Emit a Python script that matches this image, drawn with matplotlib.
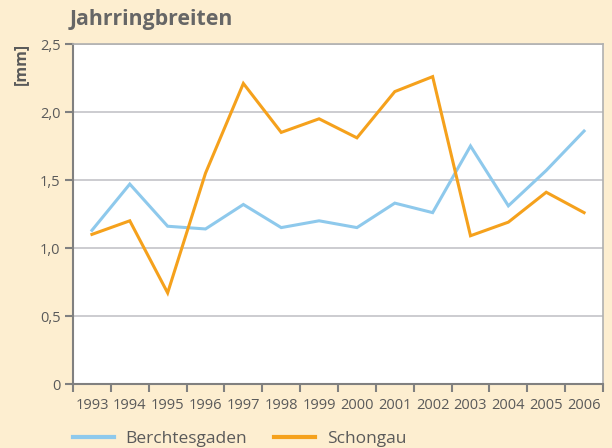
import numpy as np
import matplotlib.pyplot as plt
from matplotlib.lines import Line2D

plt.rcParams['font.family'] = ['Open Sans', 'DejaVu Sans']

years = ['1993', '1994', '1995', '1996', '1997', '1998', '1999',
         '2000', '2001', '2002', '2003', '2004', '2005', '2006']
berchtesgaden = [1.13, 1.47, 1.16, 1.14, 1.32, 1.15, 1.20,
                 1.15, 1.33, 1.26, 1.75, 1.31, 1.57, 1.86]
schongau = [1.10, 1.20, 0.67, 1.55, 2.21, 1.85, 1.95,
            1.81, 2.15, 2.26, 1.09, 1.19, 1.41, 1.26]
yticks = [0, 0.5, 1.0, 1.5, 2.0, 2.5]
ytick_labels = ['0', '0,5', '1,0', '1,5', '2,0', '2,5']

bg = '#fdeed0'
text_col = '#5a5a5a'
axis_col = '#808080'
blue = '#8ec9ec'
orange = '#f5a11c'

fig = plt.figure(figsize=(6.12, 4.48), dpi=100, facecolor=bg)
ax = fig.add_axes([73 / 612, 64 / 448, 530 / 612, 340 / 448])
ax.set_facecolor('white')

x = np.arange(len(years))
ax.plot(x, berchtesgaden, color=blue, lw=2.2, solid_joinstyle='miter')
ax.plot(x, schongau, color=orange, lw=2.2, solid_joinstyle='miter')

ax.set_xlim(-0.5, len(years) - 0.5)
ax.set_ylim(0, 2.5)

# y axis
ax.set_yticks(yticks)
ax.set_yticklabels(ytick_labels)
ax.yaxis.grid(True, color='#c4c4c8', lw=1.2)
ax.set_axisbelow(True)

# x axis: ticks at category borders, labels centered
ax.set_xticks(np.arange(len(years) + 1) - 0.5)
ax.set_xticklabels([])
ax.set_xticks(x, minor=True)
ax.set_xticklabels(years, minor=True)
ax.tick_params(axis='x', which='minor', length=0, pad=10)
ax.tick_params(axis='x', which='major', length=6, width=1.5, color=axis_col)
ax.tick_params(axis='y', length=6, width=1.5, color=axis_col, pad=3)
ax.tick_params(which='both', labelsize=10.5, labelcolor=text_col)

for side in ['left', 'bottom']:
    ax.spines[side].set_color(axis_col)
    ax.spines[side].set_linewidth(1.5)
for side in ['top', 'right']:
    ax.spines[side].set_color('#b0b0b0')
    ax.spines[side].set_linewidth(1.2)

fig.text(70 / 612, 1 - 20 / 448, 'Jahrringbreiten', fontsize=15.3, fontweight='bold',
         color='#666666', va='center', ha='left')
fig.text(21 / 612, 1 - 64 / 448, '[mm]', fontsize=11.5, fontweight='bold',
         color=text_col, rotation=90, va='center', ha='center')

handles = [Line2D([], [], color=blue, lw=3), Line2D([], [], color=orange, lw=3)]
fig.legend(handles, ['Berchtesgaden', 'Schongau'], loc='center left',
           bbox_to_anchor=(57 / 612, 1 - 439 / 448), ncol=2, frameon=False,
           fontsize=12.5, labelcolor=text_col, handlelength=2.36, columnspacing=1.55,
           handletextpad=0.69)

fig.savefig('out.png', dpi=100, facecolor=bg)
